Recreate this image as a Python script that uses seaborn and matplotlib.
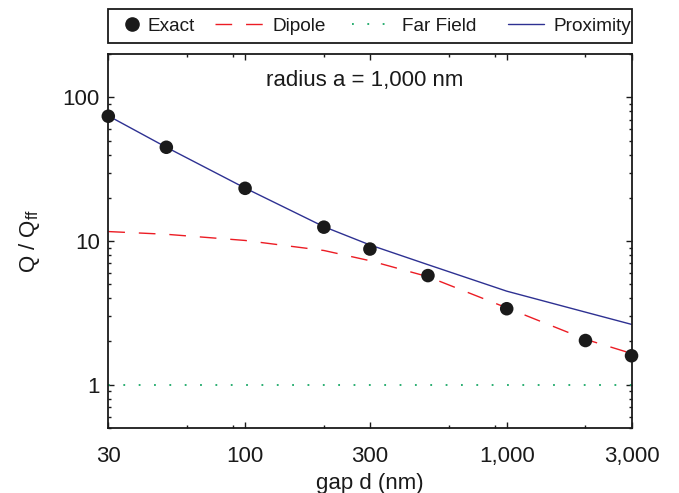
import matplotlib
matplotlib.use("Agg")
import matplotlib.pyplot as plt
import matplotlib.ticker as mticker
from matplotlib.lines import Line2D
from matplotlib.patches import Rectangle
from matplotlib.legend_handler import HandlerLine2D
import numpy as np
import pandas as pd
import seaborn as sns

# Gap values (nm) and normalized heat-transfer ratios Q / Q_ff
gap_exact = [30, 50, 100, 200, 300, 500, 1000, 2000, 3000]
q_exact = [74, 45, 23.3, 12.5, 8.8, 5.75, 3.38, 2.03, 1.59]

gap_curve = [30, 50, 100, 200, 300, 500, 1000, 2000, 3000]
q_dipole = [11.65, 11.15, 10.1, 8.6, 7.3, 5.65, 3.43, 2.07, 1.65]
q_proximity = [74.5, 45, 23.4, 12.6, 9.4, 6.85, 4.48, 3.2, 2.63]
q_farfield = [1, 1, 1, 1, 1, 1, 1, 1, 1]

xtick_vals = [30, 100, 300, 1000, 3000]
xtick_labels = ["30", "100", "300", "1,000", "3,000"]
xminor_vals = [60, 90, 200, 600, 900, 2000]
ytick_vals = [1, 10, 100]
ytick_labels = ["1", "10", "100"]

exact_df = pd.DataFrame({"gap": gap_exact, "Q": q_exact})
curves_df = pd.DataFrame({"gap": gap_curve, "Dipole": q_dipole,
                          "Far Field": q_farfield, "Proximity": q_proximity})

sns.set_style("ticks")
plt.rcParams["font.family"] = ["Liberation Sans", "DejaVu Sans"]
plt.rcParams["mathtext.fontset"] = "custom"
plt.rcParams["mathtext.rm"] = "Liberation Sans"
plt.rcParams["mathtext.it"] = "Liberation Sans"

RED = "#ec1c24"
BLUE = "#2e3192"
GREEN = "#19a866"
INK = "#1a1a1a"


class HandlerShifted(HandlerLine2D):
    """Line handler that can reach further left and shift its marker."""

    def __init__(self, extra=0.0, shift=0.0, **kw):
        super().__init__(**kw)
        self.extra = extra
        self.shift = shift

    def create_artists(self, legend, orig_handle, xdescent, ydescent,
                       width, height, fontsize, trans):
        return super().create_artists(
            legend, orig_handle, xdescent + self.extra - self.shift, ydescent,
            width + self.extra, height, fontsize, trans)


fig = plt.figure(figsize=(6.79, 4.93), dpi=100)
ax_left, ax_bottom, ax_w, ax_h = 0.1595, 0.132, 0.7706, 0.758
ax = fig.add_axes([ax_left, ax_bottom, ax_w, ax_h])

sns.lineplot(data=curves_df, x="gap", y="Far Field", ax=ax, color=GREEN,
             linewidth=1.3, linestyle=(0, (1, 7.5)))
sns.lineplot(data=curves_df, x="gap", y="Dipole", ax=ax, color=RED,
             linewidth=1.0, linestyle=(0, (12, 10)))
sns.lineplot(data=curves_df, x="gap", y="Proximity", ax=ax, color=BLUE,
             linewidth=1.0)
sns.scatterplot(data=exact_df, x="gap", y="Q", ax=ax, color=INK,
                s=95, edgecolor="none", zorder=5, clip_on=False)

ax.set_xscale("log")
ax.set_yscale("log")
ax.set_xlim(30, 3000)
ax.set_ylim(0.5, 200)

ax.xaxis.set_major_locator(mticker.FixedLocator(xtick_vals))
ax.xaxis.set_major_formatter(mticker.FixedFormatter(xtick_labels))
ax.xaxis.set_minor_locator(mticker.FixedLocator(xminor_vals))
ax.xaxis.set_minor_formatter(mticker.NullFormatter())
ax.yaxis.set_major_locator(mticker.FixedLocator(ytick_vals))
ax.yaxis.set_major_formatter(mticker.FixedFormatter(ytick_labels))
ax.yaxis.set_minor_locator(mticker.LogLocator(base=10, subs=np.arange(2, 10)))
ax.yaxis.set_minor_formatter(mticker.NullFormatter())

ax.tick_params(which="both", direction="in", top=True, right=True,
               colors=INK, width=1.0)
ax.tick_params(which="major", length=4, labelsize=16)
ax.tick_params(which="minor", length=2.2)
ax.tick_params(axis="x", which="major", pad=13)
ax.tick_params(axis="y", which="major", pad=6)

for sp in ax.spines.values():
    sp.set_linewidth(1.3)
    sp.set_color(INK)

ax.set_xlabel("gap d (nm)", fontsize=16, labelpad=4, color=INK)
ax.set_ylabel("Q / Q$_{\\rm ff}$", fontsize=16, labelpad=15, color=INK)

ax.text(0.49, 0.93, "radius a = 1,000 nm", transform=ax.transAxes,
        ha="center", va="center", fontsize=16, color=INK)

# Legend strip above the axes: a plain box spanning the axes width
leg_bottom, leg_h = 0.913, 0.069
fig.patches.append(Rectangle((ax_left, leg_bottom), ax_w, leg_h,
                             transform=fig.transFigure, fill=False,
                             edgecolor=INK, linewidth=1.3, zorder=3))

h_exact = Line2D([], [], marker="o", linestyle="none", color=INK,
                 markersize=9.5)
h_dipole = Line2D([], [], color=RED, linewidth=1.0, linestyle=(0, (12, 10)))
h_far = Line2D([], [], color=GREEN, linewidth=1.3, linestyle=(0, (1, 7.5)))
h_prox = Line2D([], [], color=BLUE, linewidth=1.0)
handles = [h_exact, h_dipole, h_far, h_prox]
labels = ["Exact", "Dipole", "Far Field", "Proximity"]
leg = ax.legend(handles, labels, ncol=4, mode="expand", loc="center left",
                bbox_to_anchor=(ax_left, leg_bottom, ax_w + 9 / 679, leg_h),
                bbox_transform=fig.transFigure, borderaxespad=0,
                frameon=False, fontsize=13.7,
                handlelength=1.1, handletextpad=0.5, borderpad=0.48,
                handler_map={
                    h_exact: HandlerShifted(extra=0, shift=3),
                    h_dipole: HandlerShifted(extra=19.5),
                    h_far: HandlerShifted(extra=14.5),
                    h_prox: HandlerShifted(extra=11),
                })
for t in leg.get_texts():
    t.set_color(INK)

fig.savefig("out.png", dpi=100)
